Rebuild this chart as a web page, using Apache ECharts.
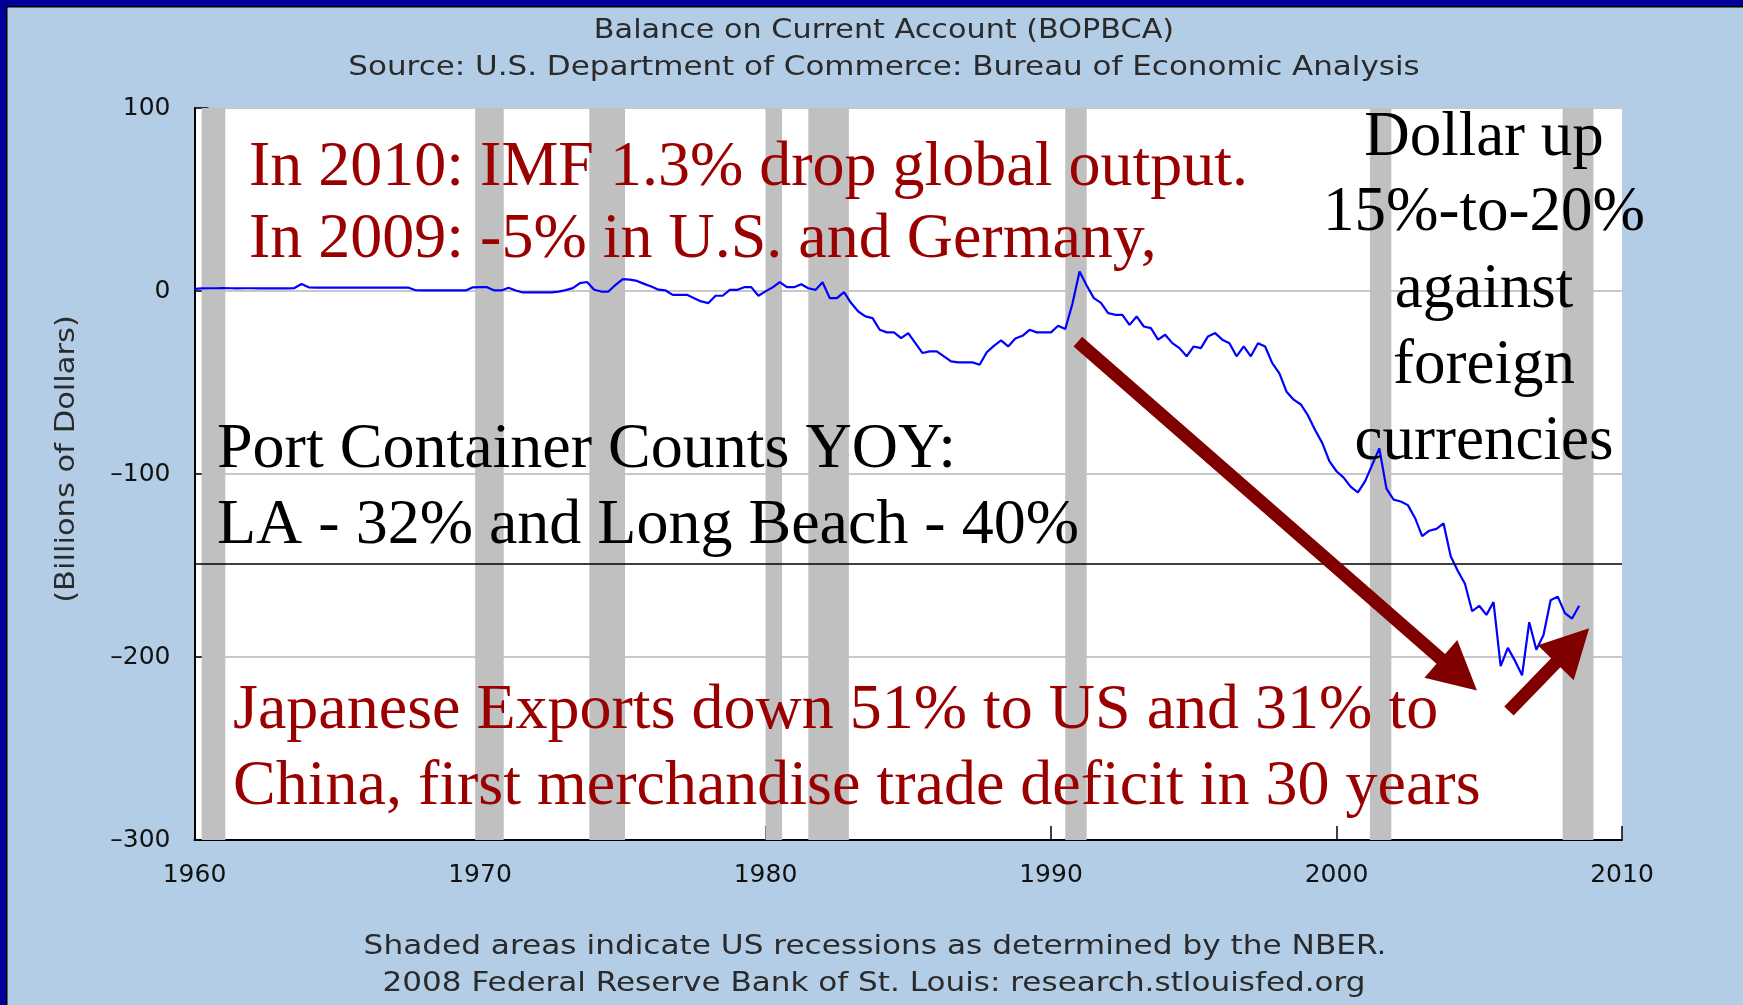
<!DOCTYPE html>
<html>
<head>
<meta charset="utf-8">
<script src="https://cdn.jsdelivr.net/npm/echarts@6/dist/echarts.min.js"></script>
<style>
html,body{margin:0;padding:0;background:#b4cde6;}
#chart{width:1743px;height:1005px;}
</style>
</head>
<body>
<div id="chart"></div>
<script>
// ---- DATA ----
const startYear = 1960; // first quarter 1960Q1, quarterly values (billions of dollars)
const bopbca = [
  1.2, 1.4, 1.5, 1.5,      // 1960
  1.6, 1.5, 1.4, 1.5,      // 1961
  1.5, 1.4, 1.5, 1.4,      // 1962
  1.5, 1.4, 1.6, 3.8,      // 1963
  2.0, 1.8, 1.9, 1.8,      // 1964
  1.8, 1.9, 1.8, 1.8,      // 1965
  1.9, 1.8, 1.8, 1.9,      // 1966
  1.8, 1.9, 1.8, 0.4,      // 1967
  0.3, 0.3, 0.3, 0.3,      // 1968
  0.3, 0.3, 0.3, 2.0,      // 1969
  2.1, 2.1, 0.3, 0.3,      // 1970
  1.8, 0.3, -0.8, -0.8,    // 1971
  -0.8, -0.8, -0.8, -0.3,  // 1972
  0.5, 1.6, 4.3, 4.9,      // 1973
  0.7, -0.3, -0.3, 3.4,    // 1974
  6.5, 6.2, 5.5, 3.9,      // 1975
  2.5, 0.7, 0.3, -2.1,     // 1976
  -2.1, -2.1, -3.9, -5.7,  // 1977
  -6.6, -2.6, -2.6, 0.6,   // 1978
  0.6, 2.1, 2.1, -2.6,     // 1979
  -0.2, 2.0, 4.8, 2.1,     // 1980
  2.1, 3.7, 1.5, 0.6,      // 1981
  4.8, -3.9, -3.9, -0.6,   // 1982
  -6.6, -11.2, -13.9, -14.8, // 1983
  -21.2, -22.6, -22.6, -25.7, // 1984
  -23.0, -28.5, -33.9, -33.0, // 1985
  -33.0, -35.7, -38.5, -39.0, // 1986
  -39.0, -39.0, -40.3, -33.5, // 1987
  -30.0, -27.0, -30.3, -26.0, // 1988
  -24.5, -21.2, -22.6, -22.6, // 1989
  -22.6, -19.0, -20.8, -7.0,  // 1990
  10.6, 3.0, -3.9, -6.5,      // 1991
  -12.1, -13.0, -13.0, -18.5, // 1992
  -13.9, -19.4, -20.3, -26.6, // 1993
  -23.9, -28.5, -31.2, -35.7, // 1994
  -30.3, -31.2, -24.8, -23.0, // 1995
  -26.6, -28.5, -35.7, -30.3, // 1996
  -35.7, -28.5, -30.3, -39.4, // 1997
  -45.0, -55.0, -59.4, -62.0, // 1998
  -68.0, -76.0, -83.0, -93.0, // 1999
  -98.5, -102.0, -107.0, -110.0, // 2000
  -104.0, -95.0, -86.0, -108.0,  // 2001
  -114.0, -115.0, -117.0, -124.0, // 2002
  -134.0, -131.0, -130.0, -127.0, // 2003
  -145.0, -153.0, -160.0, -175.0, // 2004
  -172.0, -177.0, -170.0, -205.0, // 2005
  -195.0, -202.0, -210.0, -181.0, // 2006
  -196.0, -188.0, -169.0, -167.0, // 2007
  -176.0, -179.0, -172.0          // 2008
];
// NBER recessions [start, end] in decimal years
const recessions = [
  [1960.25, 1961.08], [1969.83, 1970.83], [1973.83, 1975.08], [1980.0, 1980.58],
  [1981.5, 1982.92], [1990.5, 1991.25], [2001.17, 2001.92], [2007.92, 2009.0]
];
const yTicks = [-300, -200, -100, 0, 100];
const xTicks = [1960, 1970, 1980, 1990, 2000, 2010];
const refLineValue = -149; // black horizontal reference line
const titleText = 'Balance on Current Account (BOPBCA)';
const subtitleText = 'Source: U.S. Department of Commerce: Bureau of Economic Analysis';
const footer1 = 'Shaded areas indicate US recessions as determined by the NBER.';
const footer2 = '2008 Federal Reserve Bank of St. Louis: research.stlouisfed.org';
const yName = '(Billions of Dollars)';
const redNotes = [
  'In 2010: IMF 1.3% drop global output.',
  'In 2009: -5% in U.S. and Germany,',
  'Japanese Exports down 51% to US and 31% to',
  'China, first merchandise trade deficit in 30 years'
];
const blackNotes = ['Port Container Counts YOY:', 'LA - 32% and Long Beach - 40%'];
const dollarNotes = ['Dollar up', '15%-to-20%', 'against', 'foreign', 'currencies'];
// annotation arrows in data coordinates [year, value]
const arrows = [
  { from: [1990.94, -27.7], to: [2004.92, -218.3] },
  { from: [2006.04, -229.5], to: [2008.85, -184.3] }
];

// ---- CHART ----
const chart = echarts.init(document.getElementById('chart'), null, { renderer: 'canvas' });
const lineData = bopbca.map((v, i) => [startYear + i / 4, v]);

const sans = 'DejaVu Sans';
const serif = '"Liberation Serif", "Times New Roman", serif';
function txt(id, text, x, y, opt) {
  opt = opt || {};
  return {
    type: 'text', id: id, x: x, y: y, z: 50,
    rotation: opt.rotation || 0,
    scaleX: opt.scaleX || 1,
    style: {
      text: text,
      fill: opt.fill || '#2a2a2a',
      font: opt.font,
      textAlign: opt.align || 'center',
      align: opt.align || 'center',
      textVerticalAlign: 'middle',
      verticalAlign: 'middle'
    }
  };
}
const sansFont = '27px "DejaVu Sans"';
const noteFont = '64px ' + serif;
const graphics = [
  { type: 'rect', id: 'bTop', shape: { x: 0, y: 0, width: 1743, height: 6 }, style: { fill: '#000099' }, z: 60 },
  { type: 'rect', id: 'bLeft', shape: { x: 0, y: 0, width: 6, height: 1005 }, style: { fill: '#000099' }, z: 60 },
  { type: 'rect', id: 'bTop2', shape: { x: 6, y: 6, width: 1737, height: 1.5 }, style: { fill: '#000' }, z: 60 },
  { type: 'rect', id: 'bLeft2', shape: { x: 6, y: 6, width: 1.5, height: 999 }, style: { fill: '#000' }, z: 60 },
  txt('t1', titleText, 884, 31, { font: sansFont, scaleX: 1.12 }),
  txt('t2', subtitleText, 884, 68, { font: sansFont, scaleX: 1.147 }),
  txt('f1', footer1, 875, 947, { font: sansFont, scaleX: 1.154 }),
  txt('f2', footer2, 874, 984, { font: sansFont, scaleX: 1.15 }),
  txt('yn', yName, 67, 459, { font: sansFont, scaleX: 1.13, rotation: Math.PI / 2 }),
  txt('r1', redNotes[0], 249, 168, { font: noteFont, fill: '#9a0000', align: 'left' }),
  txt('r2', redNotes[1], 249, 240, { font: noteFont, fill: '#9a0000', align: 'left' }),
  txt('k1', blackNotes[0], 217, 450, { font: noteFont, fill: '#000', align: 'left' }),
  txt('k2', blackNotes[1], 217, 526, { font: noteFont, fill: '#000', align: 'left' }),
  txt('r3', redNotes[2], 233, 711, { font: noteFont, fill: '#9a0000', align: 'left' }),
  txt('r4', redNotes[3], 233, 787, { font: noteFont, fill: '#9a0000', align: 'left' })
];
const dollarY = [138, 213, 290, 366, 442];
dollarNotes.forEach((t, i) => graphics.push(txt('d' + i, t, 1484, dollarY[i], { font: '63px ' + serif, fill: '#000' })));

const option = {
  animation: false,
  backgroundColor: '#b4cde6',
  grid: {
    left: 194.5, right: 121, top: 108, bottom: 165,
    show: true, backgroundColor: '#ffffff', borderWidth: 0
  },
  xAxis: {
    type: 'value', min: xTicks[0], max: xTicks[xTicks.length - 1], interval: 10,
    axisLine: { show: true, onZero: false, lineStyle: { color: '#000', width: 2 } },
    axisTick: { show: true, inside: true, length: 14, lineStyle: { color: '#000', width: 1.5 } },
    axisLabel: { fontFamily: sans, fontSize: 25, color: '#111', margin: 23, formatter: v => String(v) },
    splitLine: { show: false }
  },
  yAxis: {
    type: 'value', min: yTicks[0], max: yTicks[yTicks.length - 1], interval: 100,
    axisLine: { show: true, onZero: false, lineStyle: { color: '#000', width: 2 } },
    axisTick: { show: true, inside: true, length: 14, lineStyle: { color: '#000', width: 1.5 } },
    axisLabel: { fontFamily: sans, fontSize: 25, color: '#111', margin: 24,
      formatter: v => (v < 0 ? '\u2013' + Math.abs(v) : String(v)) },
    splitLine: { show: true, lineStyle: { color: '#c8c8c8', width: 2 } }
  },
  series: [
    {
      type: 'line', name: 'recessions', data: [], z: 1, silent: true,
      markArea: {
        silent: true,
        itemStyle: { color: '#c0c0c0', opacity: 1 },
        data: recessions.map(r => [{ xAxis: r[0] }, { xAxis: r[1] }])
      }
    },
    {
      type: 'line', name: 'BOPBCA', data: lineData, z: 3,
      showSymbol: false, symbol: 'none',
      lineStyle: { color: '#0000ff', width: 2.2 },
      markLine: {
        silent: true, symbol: ['none', 'none'],
        label: { show: false },
        lineStyle: { color: '#000', width: 1.5, type: 'solid' },
        data: [{ yAxis: refLineValue }]
      }
    }
  ],
  graphic: { elements: graphics }
};
chart.setOption(option);

// arrows built from data coordinates through the chart's own scales
function arrowPolygon(p0, p1, shaft, headLen, headW) {
  const dx = p1[0] - p0[0], dy = p1[1] - p0[1];
  const L = Math.sqrt(dx * dx + dy * dy);
  const ux = dx / L, uy = dy / L, nx = -uy, ny = ux;
  const bx = p1[0] - ux * headLen, by = p1[1] - uy * headLen;
  const s = shaft / 2, h = headW / 2;
  return [
    [p0[0] + nx * s, p0[1] + ny * s],
    [bx + nx * s, by + ny * s],
    [bx + nx * h, by + ny * h],
    [p1[0], p1[1]],
    [bx - nx * h, by - ny * h],
    [bx - nx * s, by - ny * s],
    [p0[0] - nx * s, p0[1] - ny * s]
  ];
}
const arrowEls = arrows.map((a, i) => {
  const p0 = chart.convertToPixel({ gridIndex: 0 }, a.from);
  const p1 = chart.convertToPixel({ gridIndex: 0 }, a.to);
  return {
    type: 'polygon', id: 'arrow' + i, z: 40,
    shape: { points: arrowPolygon(p0, p1, 13, 48, 50) },
    style: { fill: '#800000' }
  };
});
chart.setOption({ graphic: { elements: arrowEls } });
</script>
</body>
</html>
